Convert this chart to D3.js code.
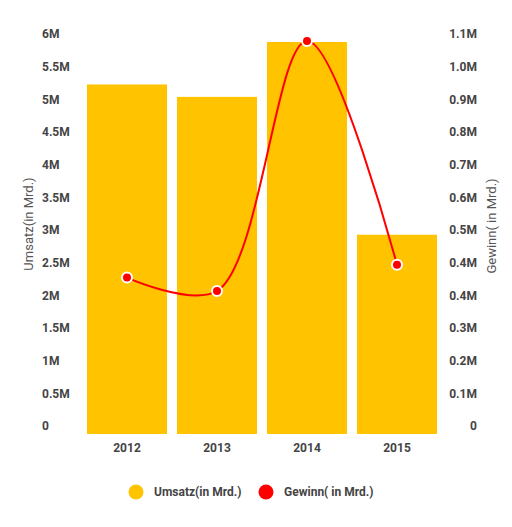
<!DOCTYPE html>
<html>
<head>
<meta charset="utf-8">
<script src="https://cdn.jsdelivr.net/npm/d3@7"></script>
<style>
  body { margin: 0; background: #fff; }
  text { font-family: Roboto, "Noto Sans", sans-serif; }
</style>
</head>
<body>
<div id="chart"></div>
<script>
// data
const years = ["2012", "2013", "2014", "2015"];
const umsatz = [5.35, 5.16, 6.0, 3.05];
const gewinn = [0.431, 0.394, 1.083, 0.466];
const leftTicks = [0, 0.5, 1, 1.5, 2, 2.5, 3, 3.5, 4, 4.5, 5, 5.5, 6];
const leftTickLabels = ["0", "0.5M", "1M", "1.5M", "2M", "2.5M", "3M", "3.5M", "4M", "4.5M", "5M", "5.5M", "6M"];
const rightTicks = [0, 0.09, 0.18, 0.27, 0.36, 0.45, 0.54, 0.63, 0.72, 0.81, 0.9, 0.99, 1.08];
const rightTickLabels = ["0", "0.1M", "0.2M", "0.3M", "0.4M", "0.4M", "0.5M", "0.6M", "0.7M", "0.8M", "0.9M", "1.0M", "1.1M"];
const seriesNames = ["Umsatz(in Mrd.)", "Gewinn( in Mrd.)"];

var width = 512, height = 527;
var barColor = "#FFC300", lineColor = "#FF0000", textColor = "#444";

var svg = d3.select("#chart").append("svg")
    .attr("width", width)
    .attr("height", height);

var x = d3.scaleBand()
    .domain(years)
    .range([82, 442])
    .paddingInner(1 / 9)
    .paddingOuter(1 / 18);

var yL = d3.scaleLinear().domain([0, 6]).range([434, 42]);
var yR = d3.scaleLinear().domain([0, 1.08]).range([434, 42]);

// bars
svg.append("g").selectAll("rect")
    .data(umsatz)
    .enter().append("rect")
    .attr("x", (d, i) => x(years[i]))
    .attr("width", x.bandwidth())
    .attr("y", d => yL(d))
    .attr("height", d => yL(0) - yL(d))
    .attr("fill", barColor);

// left axis labels (no lines)
var leftAxis = d3.axisLeft(yL)
    .tickValues(leftTicks)
    .tickFormat((d, i) => leftTickLabels[i])
    .tickSize(0);
var gl = svg.append("g").attr("transform", "translate(42,-8)").call(leftAxis);
gl.select(".domain").remove();
gl.selectAll("text")
    .attr("x", 0)
    .attr("text-anchor", "start")
    .attr("fill", textColor)
    .style("font-size", "12px")
    .style("font-weight", "bold");

// right axis labels
var rightAxis = d3.axisRight(yR)
    .tickValues(rightTicks)
    .tickFormat((d, i) => rightTickLabels[i])
    .tickSize(0);
var gr = svg.append("g").attr("transform", "translate(477,-8)").call(rightAxis);
gr.select(".domain").remove();
gr.selectAll("text")
    .attr("x", 0)
    .attr("text-anchor", "end")
    .attr("fill", textColor)
    .style("font-size", "12px")
    .style("font-weight", "bold");

// x axis labels
var bottomAxis = d3.axisBottom(x).tickSize(0);
var gb = svg.append("g").attr("transform", "translate(0,440)").call(bottomAxis);
gb.select(".domain").remove();
gb.selectAll("text")
    .attr("fill", textColor)
    .style("font-size", "12px")
    .style("font-weight", "bold");

// axis titles
svg.append("text")
    .attr("transform", "translate(33,224) rotate(-90)")
    .attr("text-anchor", "middle")
    .attr("fill", "#555")
    .style("font-size", "13px")
    .text(seriesNames[0]);

svg.append("text")
    .attr("transform", "translate(496,226) rotate(-90)")
    .attr("text-anchor", "middle")
    .attr("fill", "#555")
    .style("font-size", "13px")
    .text(seriesNames[1]);

// line
var line = d3.line()
    .x((d, i) => x(years[i]) + x.bandwidth() / 2)
    .y(d => yR(d))
    .curve(d3.curveCatmullRom.alpha(0.5));

svg.append("path")
    .datum(gewinn)
    .attr("d", line)
    .attr("fill", "none")
    .attr("stroke", lineColor)
    .attr("stroke-width", 2);

svg.append("g").selectAll("circle")
    .data(gewinn)
    .enter().append("circle")
    .attr("cx", (d, i) => x(years[i]) + x.bandwidth() / 2)
    .attr("cy", d => yR(d))
    .attr("r", 5)
    .attr("fill", lineColor)
    .attr("stroke", "#fff")
    .attr("stroke-width", 2);

// legend
var legend = svg.append("g");
var legendItems = [
    { name: seriesNames[0], color: barColor, cx: 136 },
    { name: seriesNames[1], color: lineColor, cx: 266 }
];
legendItems.forEach(function (it) {
    legend.append("circle")
        .attr("cx", it.cx)
        .attr("cy", 492)
        .attr("r", 7.5)
        .attr("fill", it.color);
    legend.append("text")
        .attr("x", it.cx + 18)
        .attr("y", 492)
        .attr("dy", "0.35em")
        .attr("fill", textColor)
        .style("font-size", "12px")
        .style("font-weight", "bold")
        .text(it.name);
});
</script>
</body>
</html>
